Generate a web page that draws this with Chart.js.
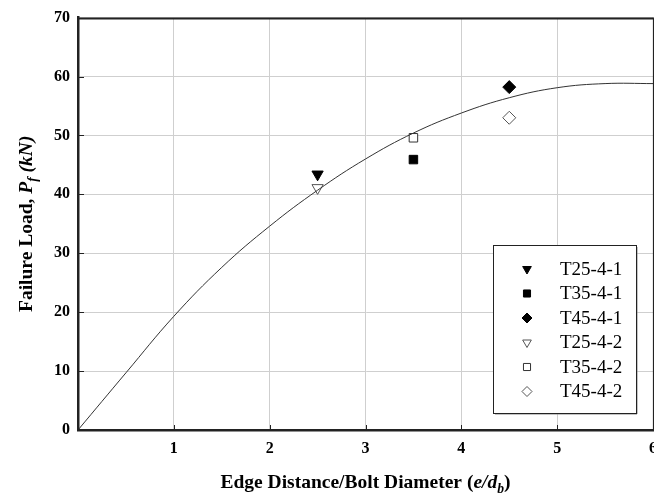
<!DOCTYPE html>
<html>
<head>
<meta charset="utf-8">
<script src="https://cdn.jsdelivr.net/npm/chart.js@4.4.1/dist/chart.umd.min.js"></script>
<style>
  html, body { margin: 0; padding: 0; background: #fff; }
  #wrap { width: 654px; height: 500px; position: relative; }
</style>
</head>
<body>
<div id="wrap"><canvas id="loadChart"></canvas></div>
<script>
// fitted curve
const curveX = [0, 0.5, 1, 1.5, 2, 2.5, 3, 3.5, 4, 4.5, 5, 5.5, 6];
const curveY = [0, 9.7, 19.3, 27.6, 34.6, 40.7, 46.0, 50.4, 53.8, 56.4, 58.1, 58.8, 58.8];

// test results
const seriesNames = ["T25-4-1", "T35-4-1", "T45-4-1", "T25-4-2", "T35-4-2", "T45-4-2"];
const edgeRatio = [2.5, 3.5, 4.5, 2.5, 3.5, 4.5];
const failureLoad = [43.4, 45.9, 58.2, 41.1, 49.6, 53.0];

const xTicks = [0, 1, 2, 3, 4, 5, 6];
const yTicks = [0, 10, 20, 30, 40, 50, 60, 70];

const serif = "'Liberation Serif', 'Times New Roman', serif";

// marker look for each series
const markerStyle = [
    { pointStyle: "triangle", rotation: 180, radius: 6.5, fill: "#000", stroke: "#000" },
    { pointStyle: "rect", rotation: 0, radius: 6, fill: "#000", stroke: "#000" },
    { pointStyle: "rectRot", rotation: 0, radius: 6.5, fill: "#000", stroke: "#000" },
    { pointStyle: "triangle", rotation: 180, radius: 6.5, fill: "#fff", stroke: "#555" },
    { pointStyle: "rect", rotation: 0, radius: 6, fill: "#fff", stroke: "#333" },
    { pointStyle: "rectRot", rotation: 0, radius: 6.5, fill: "#fff", stroke: "#555" }
];

const datasets = [{
    label: "fit",
    type: "line",
    data: curveX.map((x, i) => ({ x: x, y: curveY[i] })),
    borderColor: "#333",
    borderWidth: 1,
    pointRadius: 0,
    tension: 0.4,
    fill: false
}];

seriesNames.forEach((name, i) => {
    const m = markerStyle[i];
    datasets.push({
        label: name,
        type: "scatter",
        data: [{ x: edgeRatio[i], y: failureLoad[i] }],
        pointStyle: m.pointStyle,
        rotation: m.rotation,
        pointRadius: m.radius,
        pointHoverRadius: m.radius,
        backgroundColor: m.fill,
        borderColor: m.stroke,
        borderWidth: 1
    });
});

// draw text pieces in a row (bold / italic / subscript)
function drawRich(ctx, parts, cx, cy, size) {
    const fontFor = p => (p.italic ? "italic " : "") + "bold " + (p.sub ? size * 0.7 : size) + "px " + serif;
    let total = 0;
    parts.forEach(p => { ctx.font = fontFor(p); total += ctx.measureText(p.t).width; });
    let x = cx - total / 2;
    parts.forEach(p => {
        ctx.font = fontFor(p);
        ctx.fillText(p.t, x, cy + (p.sub ? size * 0.28 : 0));
        x += ctx.measureText(p.t).width;
    });
}

// plot area runs right up to the canvas edge, the "6" label is cut off like in the original
const stretchPlugin = {
    id: "stretch",
    afterLayout(chart) {
        const xs = chart.scales.x;
        chart.chartArea.right = 653;
        chart.chartArea.width = 653 - chart.chartArea.left;
        xs.right = 653;
        xs.width = xs.right - xs.left;
        xs.configure();
    }
};

const framePlugin = {
    id: "frame",
    afterDraw(chart) {
        const ctx = chart.ctx;
        const a = chart.chartArea;
        const xs = chart.scales.x, ys = chart.scales.y;
        ctx.save();
        ctx.strokeStyle = "#222";
        // top and right border
        ctx.lineWidth = 2;
        ctx.beginPath(); ctx.moveTo(a.left, a.top + 1); ctx.lineTo(a.right, a.top + 1); ctx.stroke();
        ctx.lineWidth = 1.2;
        ctx.beginPath(); ctx.moveTo(a.right + 0.5, a.top); ctx.lineTo(a.right + 0.5, a.bottom); ctx.stroke();
        // inward ticks
        ctx.lineWidth = 1;
        yTicks.forEach(v => {
            const y = Math.round(ys.getPixelForValue(v)) + 0.5;
            ctx.beginPath(); ctx.moveTo(a.left, y); ctx.lineTo(a.left + 6, y); ctx.stroke();
        });
        xTicks.forEach(v => {
            const x = Math.round(xs.getPixelForValue(v)) + 0.5;
            ctx.beginPath(); ctx.moveTo(x, a.bottom); ctx.lineTo(x, a.bottom - 5); ctx.stroke();
        });

        // legend box
        const lx = 493, ly = 245, lw = 143, lh = 168;
        ctx.fillStyle = "#fff";
        ctx.fillRect(lx, ly, lw, lh);
        ctx.strokeStyle = "#888";
        ctx.beginPath(); ctx.moveTo(lx + 2, ly + lh + 1); ctx.lineTo(lx + lw + 1, ly + lh + 1); ctx.lineTo(lx + lw + 1, ly + 2); ctx.stroke();
        ctx.strokeStyle = "#222";
        ctx.strokeRect(lx + 0.5, ly + 0.5, lw, lh);
        ctx.font = "19px " + serif;
        ctx.textBaseline = "middle";
        ctx.textAlign = "left";
        seriesNames.forEach((name, i) => {
            const m = markerStyle[i];
            const y = 269 + i * 24.5;
            ctx.fillStyle = m.fill;
            ctx.strokeStyle = m.stroke;
            ctx.lineWidth = 1;
            Chart.helpers.drawPoint(ctx, { pointStyle: m.pointStyle, rotation: m.rotation, radius: 5, borderWidth: 1 }, 527, y);
            ctx.fillStyle = "#000";
            ctx.fillText(name, 560, y + 1);
        });

        // axis titles
        ctx.fillStyle = "#000";
        ctx.textAlign = "left";
        ctx.textBaseline = "alphabetic";
        drawRich(ctx, [
            { t: "Edge Distance/Bolt Diameter (" },
            { t: "e/d", italic: true },
            { t: "b", italic: true, sub: true },
            { t: ")" }
        ], (a.left + a.right) / 2, 488, 19.5);
        ctx.translate(32, (a.top + a.bottom) / 2);
        ctx.rotate(-Math.PI / 2);
        drawRich(ctx, [
            { t: "Failure Load, " },
            { t: "P", italic: true },
            { t: "f", italic: true, sub: true },
            { t: " " },
            { t: "(kN)", italic: true }
        ], 0, 0, 19.5);
        ctx.restore();
    }
};

new Chart(document.getElementById("loadChart"), {
    data: { datasets: datasets },
    options: {
        responsive: true,
        maintainAspectRatio: false,
        animation: false,
        layout: { padding: { top: 15, right: 1, left: 0, bottom: 0 } },
        plugins: {
            legend: { display: false },
            tooltip: { enabled: false }
        },
        scales: {
            x: {
                type: "linear",
                min: 0,
                max: 6,
                afterBuildTicks: s => { s.ticks = xTicks.map(v => ({ value: v })); },
                afterFit: s => { s.height = 70; },
                ticks: {
                    padding: 9,
                    color: "#000",
                    maxRotation: 0,
                    font: { family: serif, size: 16, weight: "bold" },
                    callback: v => (v === 0 ? "" : v)
                },
                grid: { color: "#cfcfcf", lineWidth: 1, drawTicks: false },
                border: { color: "#222", width: 2.5 }
            },
            y: {
                type: "linear",
                min: 0,
                max: 70,
                afterBuildTicks: s => { s.ticks = yTicks.map(v => ({ value: v })); },
                afterFit: s => { s.width = 78; },
                ticks: {
                    padding: 8,
                    color: "#000",
                    font: { family: serif, size: 16, weight: "bold" }
                },
                grid: { color: "#cfcfcf", lineWidth: 1, drawTicks: false },
                border: { color: "#222", width: 2.5 }
            }
        }
    },
    plugins: [stretchPlugin, framePlugin]
});
</script>
</body>
</html>
